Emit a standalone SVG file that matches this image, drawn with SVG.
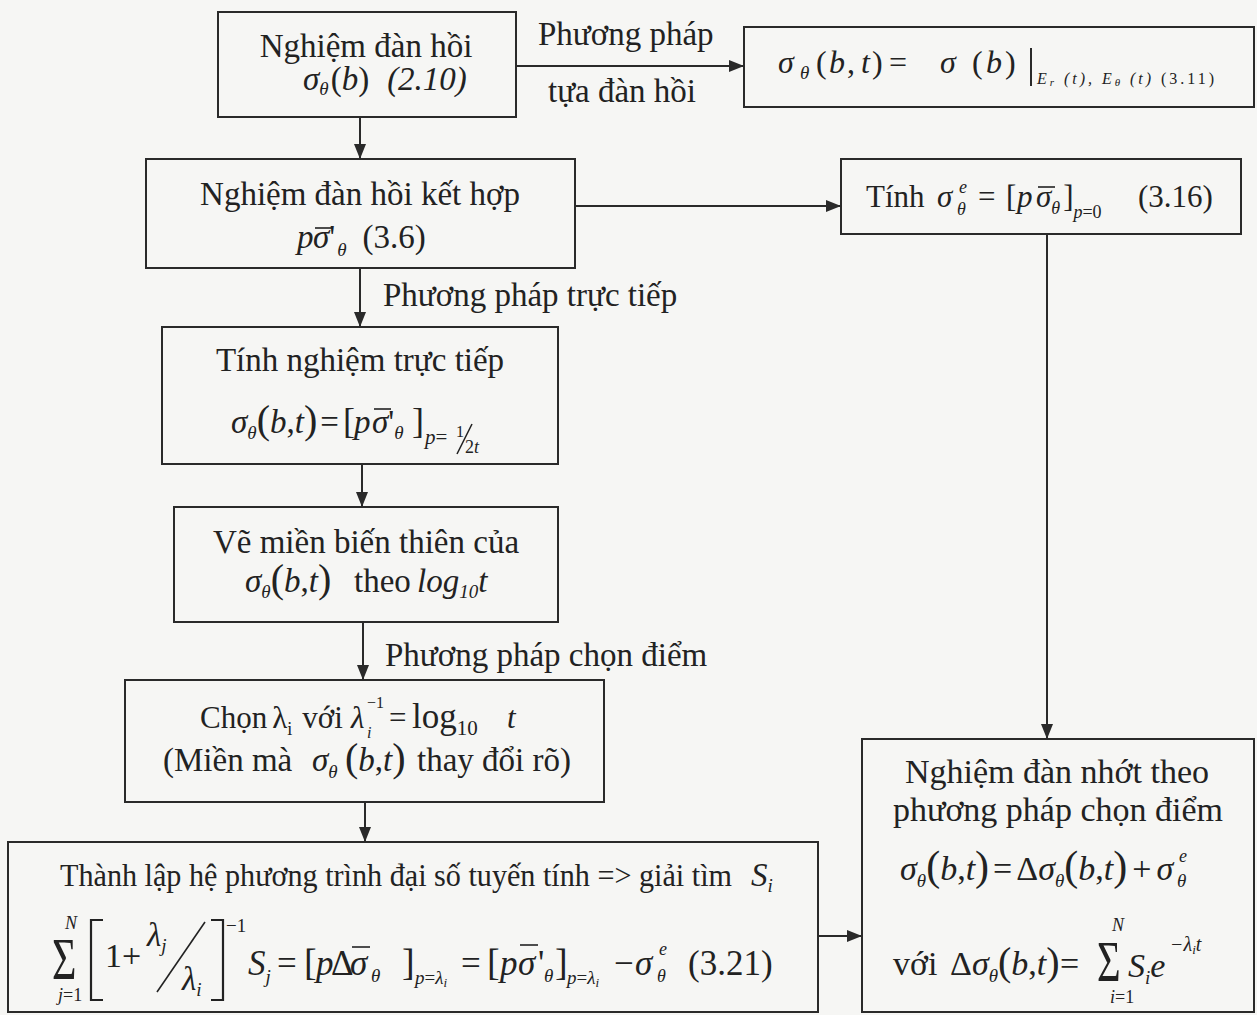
<svg xmlns="http://www.w3.org/2000/svg" width="1257" height="1015" viewBox="0 0 1257 1015" font-size="33">
<defs>
<style>
.t{font-family:"Liberation Serif","Times New Roman",serif;fill:#222}
.i{font-style:italic}
.s{font-size:19px}
.box{fill:none;stroke:#2a2a2a;stroke-width:2}
.c{stroke:#2a2a2a;stroke-width:2;fill:none}
.bar{stroke:#222;stroke-width:1.6}
.br{stroke:#222;stroke-width:2.2;fill:none}
</style>
<marker id="ah" markerUnits="userSpaceOnUse" markerWidth="15" markerHeight="12" refX="15" refY="6" orient="auto"><path d="M0,0 L15,6 L0,12 z" fill="#2a2a2a"/></marker>
</defs>
<rect width="1257" height="1015" fill="#f6f6f4"/>

<g id="connectors">
<line class="c" x1="360" y1="118" x2="360" y2="159" marker-end="url(#ah)"/>
<line class="c" x1="516" y1="66" x2="744" y2="66" marker-end="url(#ah)"/>
<line class="c" x1="575" y1="206" x2="841" y2="206" marker-end="url(#ah)"/>
<line class="c" x1="360" y1="268" x2="360" y2="327" marker-end="url(#ah)"/>
<line class="c" x1="362" y1="464" x2="362" y2="507" marker-end="url(#ah)"/>
<line class="c" x1="363" y1="622" x2="363" y2="680" marker-end="url(#ah)"/>
<line class="c" x1="365" y1="802" x2="365" y2="842" marker-end="url(#ah)"/>
<line class="c" x1="1047" y1="234" x2="1047" y2="739" marker-end="url(#ah)"/>
<line class="c" x1="818" y1="936" x2="862" y2="936" marker-end="url(#ah)"/>
<text class="t" x="538" y="45">Phương pháp</text>
<text class="t" x="548" y="102">tựa đàn hồi</text>
<text class="t" x="383" y="306">Phương pháp trực tiếp</text>
<text class="t" x="385" y="666">Phương pháp chọn điểm</text>
</g>

<g id="n1">
<rect class="box" x="218" y="12" width="298" height="105"/>
<text class="t" x="366" y="57" text-anchor="middle">Nghiệm đàn hồi</text>
<text class="t" x="303" y="90"><tspan class="i">σ</tspan><tspan class="i s" dy="5">θ</tspan><tspan dy="-5" dx="2">(</tspan><tspan class="i">b</tspan>)<tspan class="i" dx="18">(2.10)</tspan></text>
</g>

<g id="n2">
<rect class="box" x="744" y="27" width="510" height="80"/>
<text class="t" y="73" font-size="32"><tspan class="i" x="778">σ</tspan><tspan class="i s" x="800" dy="6">θ</tspan><tspan x="816" dy="-6">(</tspan><tspan class="i" x="829">b</tspan><tspan x="847">,</tspan><tspan class="i" x="861">t</tspan><tspan x="872">)</tspan><tspan x="889">=</tspan><tspan class="i" x="940">σ</tspan><tspan x="972">(</tspan><tspan class="i" x="986">b</tspan><tspan x="1005">)</tspan></text>
<line class="c" x1="1031" y1="48" x2="1031" y2="86"/>
<text class="t i" x="1037" y="84" font-size="16" textLength="177" lengthAdjust="spacing">E<tspan font-size="11" dy="2">r</tspan><tspan dy="-2"> (t), E</tspan><tspan font-size="11" dy="2">θ</tspan><tspan dy="-2"> (t) </tspan><tspan font-style="normal">(3.11)</tspan></text>
</g>

<g id="n3">
<rect class="box" x="146" y="159" width="429" height="109"/>
<text class="t" x="360" y="205" text-anchor="middle">Nghiệm đàn hồi kết hợp</text>
<text class="t" x="297" y="248"><tspan class="i">p</tspan><tspan class="i" x="313">σ</tspan>'<tspan class="i s" dy="8" dx="2">θ</tspan><tspan dy="-8" dx="16">(3.6)</tspan></text>
<line class="bar" x1="315" y1="228" x2="333" y2="228"/>
</g>

<g id="n4">
<rect class="box" x="841" y="159" width="400" height="75"/>
<text class="t" y="207" font-size="31"><tspan x="866">Tính</tspan><tspan class="i" x="937">σ</tspan><tspan class="i" x="959" y="193" font-size="18">e</tspan><tspan class="i" x="957" y="215" font-size="18">θ</tspan><tspan x="978" y="207">=</tspan><tspan x="1006">[</tspan><tspan class="i" x="1017">p</tspan><tspan class="i" x="1036">σ</tspan><tspan class="i" font-size="18" dy="7">θ</tspan><tspan dy="-7" dx="3">]</tspan><tspan font-size="18" dy="11"><tspan class="i">p</tspan>=0</tspan><tspan x="1138" y="207">(3.16)</tspan></text>
<line class="bar" x1="1038" y1="187" x2="1055" y2="187"/>
</g>

<g id="n5">
<rect class="box" x="162" y="327" width="396" height="137"/>
<text class="t" x="360" y="371" text-anchor="middle">Tính nghiệm trực tiếp</text>
<text class="t" x="231" y="433"><tspan class="i">σ</tspan><tspan class="i s" dy="6">θ</tspan><tspan dy="-6" font-size="40">(</tspan><tspan class="i">b</tspan>,<tspan class="i">t</tspan><tspan font-size="40">)</tspan><tspan dx="3">=</tspan><tspan x="343" font-size="36">[</tspan><tspan class="i" x="354">p</tspan><tspan class="i" x="372">σ</tspan>'<tspan class="i s" dy="6">θ</tspan><tspan x="412" dy="-6" font-size="36">]</tspan><tspan x="425" font-size="21" dy="11"><tspan class="i">p</tspan>=</tspan></text>
<line class="bar" x1="374" y1="409" x2="391" y2="409"/>
<text class="t" x="456" y="437" font-size="16">1</text>
<line class="bar" x1="457" y1="454" x2="472" y2="424" stroke-width="1.3"/>
<text class="t" x="465" y="453" font-size="18">2<tspan class="i">t</tspan></text>
</g>

<g id="n6">
<rect class="box" x="174" y="507" width="384" height="115"/>
<text class="t" x="366" y="553" text-anchor="middle">Vẽ miền biến thiên của</text>
<text class="t" x="245" y="592"><tspan class="i">σ</tspan><tspan class="i s" dy="6">θ</tspan><tspan dy="-6" font-size="40">(</tspan><tspan class="i">b</tspan>,<tspan class="i">t</tspan><tspan font-size="40">)</tspan><tspan x="354">theo</tspan><tspan class="i" x="417">log</tspan><tspan class="i s" dy="6">10</tspan><tspan class="i" dy="-6">t</tspan></text>
</g>

<g id="n7">
<rect class="box" x="125" y="680" width="479" height="122"/>
<text class="t" y="728" font-size="31"><tspan x="200">Chọn</tspan><tspan dx="5">λ</tspan><tspan font-size="18" dy="7">i</tspan><tspan dx="10" dy="-7">với</tspan><tspan class="i" x="351">λ</tspan><tspan x="367" y="708" font-size="16">−1</tspan><tspan class="i" x="367" y="738" font-size="16">i</tspan><tspan x="389" y="728">=</tspan><tspan x="412" font-size="35">log</tspan><tspan font-size="21" dy="7">10</tspan><tspan class="i" x="507" dy="-7">t</tspan></text>
<text class="t" y="771"><tspan x="163">(Miền mà</tspan><tspan class="i" x="312">σ</tspan><tspan class="i s" dy="7">θ</tspan><tspan x="345" dy="-7" font-size="40">(</tspan><tspan class="i">b</tspan>,<tspan class="i">t</tspan><tspan font-size="40">)</tspan><tspan x="417">thay đổi rõ)</tspan></text>
</g>

<g id="n8">
<rect class="box" x="8" y="842" width="810" height="170"/>
<text class="t" x="60" y="886" font-size="32" textLength="672" lengthAdjust="spacingAndGlyphs">Thành lập hệ phương trình đại số tuyến tính => giải tìm</text>
<text class="t i" x="751" y="886">S<tspan class="s" dy="6">i</tspan></text>
<text class="t" font-size="60" transform="translate(52,979) scale(0.7,1)">Σ</text>
<text class="t i" x="65" y="929" font-size="18">N</text>
<text class="t" x="58" y="1001" font-size="18"><tspan class="i">j</tspan>=1</text>
<path class="br" d="M103,920 H91 V1000 H103"/>
<text class="t" x="105" y="967" font-size="34">1+</text>
<text class="t i" x="147" y="946" font-size="33">λ<tspan class="s" dy="6">j</tspan></text>
<line class="bar" x1="157" y1="992" x2="205" y2="922"/>
<text class="t i" x="182" y="990" font-size="33">λ<tspan class="s" dy="6">i</tspan></text>
<path class="br" d="M211,920 H223 V1000 H211"/>
<text class="t" x="226" y="932" font-size="19">−1</text>
<text class="t" y="975" font-size="35"><tspan class="i" x="248">S</tspan><tspan class="i s" dy="8">j</tspan><tspan x="277" dy="-8">=</tspan><tspan x="304" font-size="38">[</tspan><tspan class="i" x="316">p</tspan><tspan x="331">Δ</tspan><tspan class="i" x="350">σ</tspan><tspan class="i s" x="371" dy="7">θ</tspan><tspan x="402" dy="-7" font-size="38">]</tspan><tspan class="s" x="415" dy="9"><tspan class="i">p</tspan>=<tspan class="i">λ</tspan><tspan font-size="13" class="i" dy="3">i</tspan></tspan><tspan x="461" dy="-12">=</tspan><tspan x="487" font-size="38">[</tspan><tspan class="i" x="500">p</tspan><tspan class="i" x="518">σ</tspan><tspan x="538">'</tspan><tspan class="i s" x="544" dy="7">θ</tspan><tspan x="555" dy="-7" font-size="38">]</tspan><tspan class="s" x="567" dy="9"><tspan class="i">p</tspan>=<tspan class="i">λ</tspan><tspan font-size="13" class="i" dy="3">i</tspan></tspan><tspan x="614" dy="-12">−</tspan><tspan class="i" x="635">σ</tspan><tspan class="i" x="659" y="955" font-size="18">e</tspan><tspan class="i" x="657" y="982" font-size="18">θ</tspan><tspan x="688" y="975">(3.21)</tspan></text>
<line class="bar" x1="352" y1="947" x2="370" y2="947"/>
<line class="bar" x1="520" y1="945" x2="538" y2="945"/>
</g>

<g id="n9">
<rect class="box" x="862" y="739" width="392" height="273"/>
<text class="t" x="1057" y="783" text-anchor="middle" font-size="34">Nghiệm đàn nhớt theo</text>
<text class="t" x="1058" y="821" text-anchor="middle" font-size="34">phương pháp chọn điểm</text>
<text class="t" x="900" y="880" font-size="34"><tspan class="i">σ</tspan><tspan class="i s" dy="7">θ</tspan><tspan dy="-7" font-size="42">(</tspan><tspan class="i">b</tspan>,<tspan class="i">t</tspan><tspan font-size="42">)</tspan><tspan dx="4">=</tspan><tspan dx="4">Δ</tspan><tspan class="i">σ</tspan><tspan class="i s" dy="7">θ</tspan><tspan dy="-7" font-size="42">(</tspan><tspan class="i">b</tspan>,<tspan class="i">t</tspan><tspan font-size="42">)</tspan><tspan dx="5">+</tspan><tspan class="i" dx="5">σ</tspan></text>
<text class="t i" x="1179" y="862" font-size="18">e</text>
<text class="t i" x="1177" y="887" font-size="19">θ</text>
<text class="t" y="975" font-size="34"><tspan x="893">với</tspan><tspan x="950">Δ</tspan><tspan class="i">σ</tspan><tspan class="i s" dy="7">θ</tspan><tspan dy="-7" font-size="40">(</tspan><tspan class="i">b</tspan>,<tspan class="i">t</tspan><tspan font-size="40">)</tspan><tspan x="1060">=</tspan></text>
<text class="t" font-size="58" transform="translate(1097,981) scale(0.7,1)">Σ</text>
<text class="t i" x="1112" y="931" font-size="18">N</text>
<text class="t" x="1110" y="1003" font-size="18"><tspan class="i">i</tspan>=1</text>
<text class="t i" x="1128" y="977" font-size="34">S<tspan class="s" dy="7">i</tspan><tspan dy="-7">e</tspan></text>
<text class="t i" x="1170" y="951" font-size="20">−λ<tspan font-size="13" dy="3">i</tspan><tspan dy="-3">t</tspan></text>
</g>
</svg>
